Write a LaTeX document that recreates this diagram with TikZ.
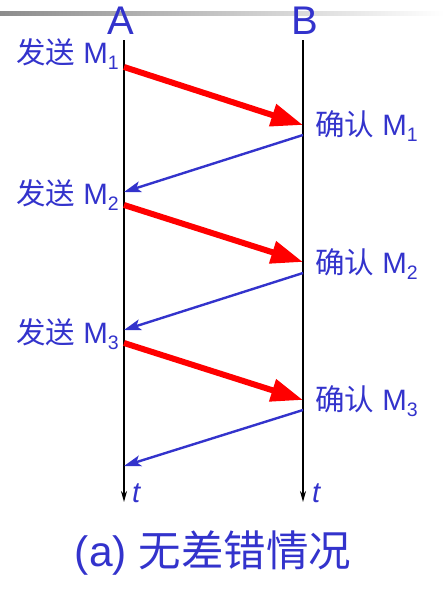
\documentclass[tikz,border=0pt]{standalone}
\usepackage{fontspec}
\setmainfont{Liberation Sans}
\newfontfamily\cjk{Noto Sans CJK SC}
\usetikzlibrary{arrows.meta}
\definecolor{tblue}{RGB}{51,51,204}
\definecolor{tred}{RGB}{255,0,0}
\newcommand\subs[1]{\raisebox{-6.5pt}{\fontsize{19.5}{19.5}\selectfont #1}}
\tikzset{
  lbl/.style={text=tblue,font=\fontsize{29.5}{29.5}\selectfont,inner sep=0pt},
  head/.style={text=tblue,font=\fontsize{40}{40}\selectfont,inner sep=0pt},
  caption/.style={text=tblue,font=\fontsize{42.5}{42.5}\selectfont,inner sep=0pt},
  tlbl/.style={text=tblue,font=\fontsize{29}{29}\selectfont\itshape,inner sep=0pt,anchor=base west},
  timeline/.style={line width=1.8pt,-{Stealth[length=11pt,width=6pt]}},
  dataarrow/.style={draw=tred,line width=6pt,-{Triangle[length=32pt,width=22pt]}},
  ackarrow/.style={draw=tblue,line width=2.4pt,-{Stealth[length=17pt,width=11pt,inset=4pt]}},
}
\begin{document}
\begin{tikzpicture}[x=1pt,y=-1pt]
\useasboundingbox (0,0) rectangle (444,589);
\shade[left color=black!45,right color=white] (0,11.5) rectangle (444,15);
\node[head] (A) at (121,20.5) {A};
\node[head] (B) at (305,20.5) {B};
\coordinate (a0) at (124,40);
\coordinate (a1) at (124,502);
\coordinate (b0) at (303,40);
\coordinate (b1) at (303,502);
\draw[timeline] (a0) -- (a1);
\draw[timeline] (b0) -- (b1);
\node[tlbl] (ta) at (132,502) {t};
\node[tlbl] (tb) at (312,502) {t};
% sends
\node[lbl,anchor=base east] (s1) at (119,63) {{\cjk 发送} M\subs{1}};
\node[lbl,anchor=base east] (s2) at (119,204) {{\cjk 发送} M\subs{2}};
\node[lbl,anchor=base east] (s3) at (119,343) {{\cjk 发送} M\subs{3}};
\node[lbl,anchor=base west] (r1) at (315,135) {{\cjk 确认} M\subs{1}};
\node[lbl,anchor=base west] (r2) at (315,273) {{\cjk 确认} M\subs{2}};
\node[lbl,anchor=base west] (r3) at (315,410) {{\cjk 确认} M\subs{3}};
% points
\coordinate (ds1) at (124,67);  \coordinate (de1) at (303,125);
\coordinate (ds2) at (124,205); \coordinate (de2) at (303,262);
\coordinate (ds3) at (124,343); \coordinate (de3) at (303,400);
\coordinate (as1) at (303,135); \coordinate (ae1) at (124,192);
\coordinate (as2) at (303,273); \coordinate (ae2) at (124,330);
\coordinate (as3) at (303,410); \coordinate (ae3) at (124,466);
\draw[dataarrow] (ds1) -- (de1);
\draw[dataarrow] (ds2) -- (de2);
\draw[dataarrow] (ds3) -- (de3);
\draw[ackarrow] (as1) -- (ae1);
\draw[ackarrow] (as2) -- (ae2);
\draw[ackarrow] (as3) -- (ae3);
\node[caption] (cap) at (213,553) {(a) {\cjk 无差错情况}};
\end{tikzpicture}
\end{document}
